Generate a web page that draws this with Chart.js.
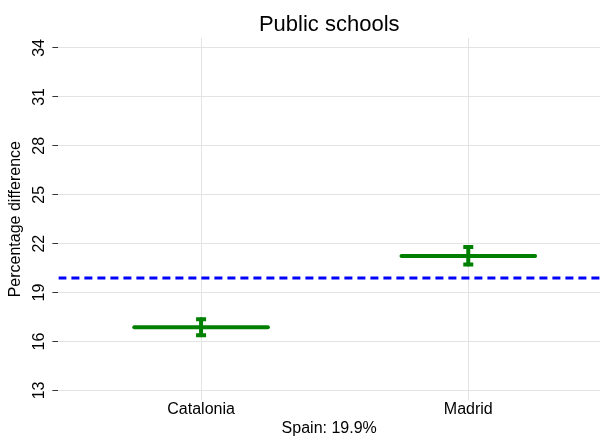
<!DOCTYPE html>
<html>
<head>
<meta charset="utf-8">
<script src="https://cdn.jsdelivr.net/npm/chart.js@4.4.1/dist/chart.umd.min.js"></script>
<style>
  html, body { margin: 0; padding: 0; background: #fff; }
  #wrap { width: 600px; height: 438px; }
</style>
</head>
<body>
<div id="wrap"><canvas id="chart"></canvas></div>
<script>
const regions = ["Catalonia", "Madrid"];
const estimates = [16.87, 21.25];
const lower = [16.38, 20.72];
const upper = [17.36, 21.8];
const spainValue = 19.9;
const yTicks = [13, 16, 19, 22, 25, 28, 31, 34];
const chartTitle = "Public schools";

const xMin = -0.534, xMax = 1.493, halfWidth = 0.25;
const green = "#008000";
const font = "Liberation Sans";

const datasets = [];
regions.forEach((name, i) => {
    datasets.push({
        label: name,
        data: [{ x: i - halfWidth, y: estimates[i] }, { x: i + halfWidth, y: estimates[i] }],
        borderColor: green,
        borderWidth: 4,
        pointRadius: 0,
        borderCapStyle: "round",
    });
    datasets.push({
        label: name + " CI",
        data: [{ x: i, y: lower[i] }, { x: i, y: upper[i] }],
        borderColor: green,
        borderWidth: 4,
        pointStyle: "line",
        pointRadius: 5,
        pointBorderWidth: 4,
        pointBorderColor: green,
        borderCapStyle: "round",
    });
});
datasets.push({
    label: "Spain",
    data: [{ x: xMin, y: spainValue }, { x: xMax, y: spainValue }],
    borderColor: "#0000ff",
    borderWidth: 3,
    borderDash: [8, 5],
    pointRadius: 0,
});

// title centred over the plot area, not the whole canvas
const plotTitle = {
    id: "plotTitle",
    afterDraw(chart) {
        const { ctx, chartArea } = chart;
        ctx.save();
        ctx.fillStyle = "#000";
        ctx.font = "22px '" + font + "'";
        ctx.textAlign = "center";
        ctx.textBaseline = "alphabetic";
        ctx.fillText(chartTitle, (chartArea.left + chartArea.right) / 2, 31);
        ctx.restore();
    },
};

new Chart(document.getElementById("chart"), {
    type: "line",
    data: { datasets },
    plugins: [plotTitle],
    options: {
        responsive: true,
        maintainAspectRatio: false,
        animation: false,
        layout: { autoPadding: false, padding: { left: 6, right: 0, top: 38, bottom: 0 } },
        plugins: {
            legend: { display: false },
            tooltip: { enabled: false },
        },
        scales: {
            x: {
                type: "linear",
                min: xMin,
                max: xMax,
                afterBuildTicks: (axis) => { axis.ticks = regions.map((_, i) => ({ value: i })); },
                ticks: {
                    callback: (v) => regions[v],
                    color: "#000",
                    font: { family: font, size: 16 },
                    padding: 0,
                },
                grid: { color: "#e3e3e3", tickLength: 0, lineWidth: 1 },
                border: { display: false },
                title: {
                    display: true,
                    text: "Spain: 19.9%",
                    color: "#000",
                    font: { family: font, size: 16, lineHeight: 1.15 },
                    padding: { top: 0, bottom: 0 },
                },
            },
            y: {
                min: 12.39,
                max: 34.61,
                afterBuildTicks: (axis) => { axis.ticks = yTicks.map((v) => ({ value: v })); },
                ticks: {
                    color: "#000",
                    minRotation: 90,
                    maxRotation: 90,
                    crossAlign: "center",
                    font: { family: font, size: 16 },
                    padding: 4,
                },
                grid: { color: "#e3e3e3", tickColor: "#333", tickLength: 6, lineWidth: 1 },
                border: { display: false },
                title: {
                    display: true,
                    text: "Percentage difference",
                    color: "#000",
                    font: { family: font, size: 16 },
                    padding: { top: 0, bottom: 0 },
                },
            },
        },
    },
});
</script>
</body>
</html>
